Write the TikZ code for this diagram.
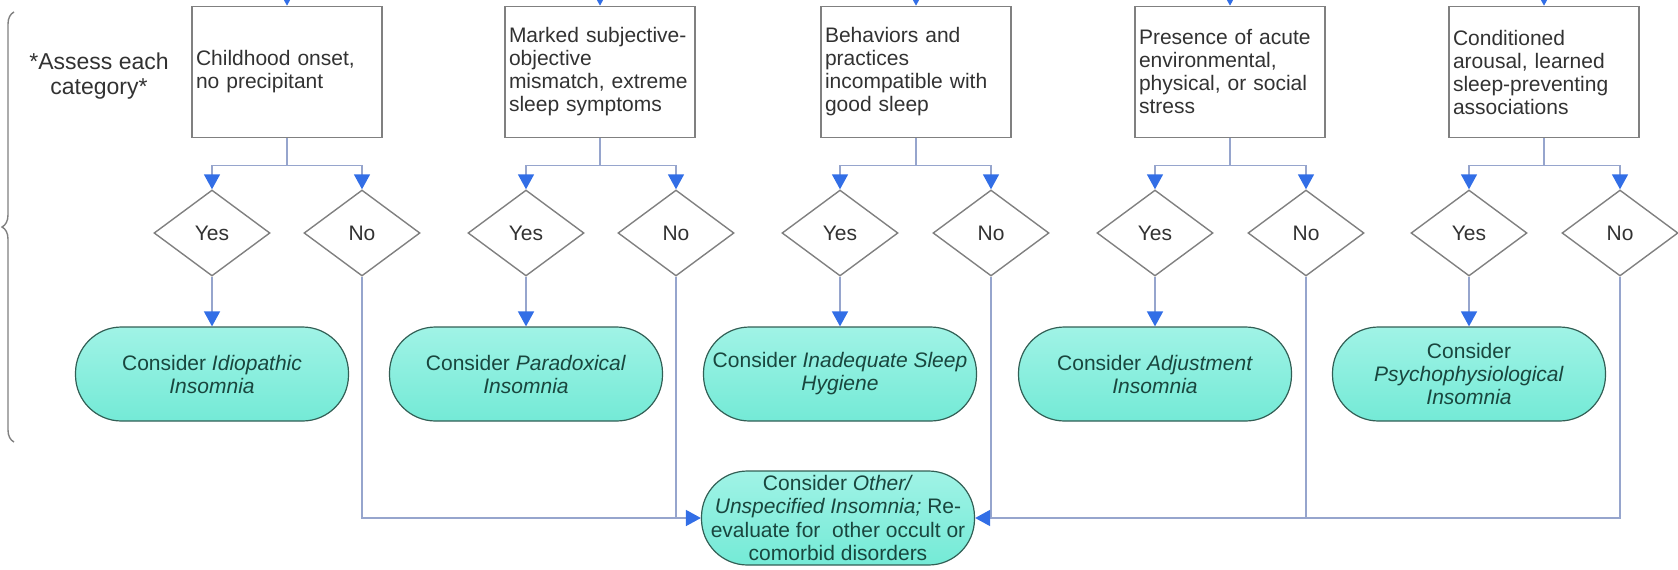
\documentclass[tikz,border=0pt]{standalone}
\usepackage{fontspec}
\setmainfont{Liberation Sans}
\usepackage{tikz}
\usetikzlibrary{shapes.geometric,arrows.meta,decorations.pathreplacing}

\definecolor{linegray}{RGB}{128,128,128}
\definecolor{connblue}{RGB}{150,165,205}
\definecolor{tipblue}{RGB}{50,110,230}
\definecolor{termfill}{RGB}{116,234,214}
\definecolor{termtop}{RGB}{160,243,230}
\definecolor{termline}{RGB}{50,95,85}
\definecolor{termtext}{RGB}{25,70,62}
\definecolor{boxtext}{RGB}{50,50,50}

\begin{document}
\begin{tikzpicture}[x=1pt, y=-1pt,
    crit/.style={draw=linegray, line width=1.6pt, text=boxtext, align=left, text width=182pt,
      inner xsep=4pt, inner ysep=0pt, minimum height=131pt, font=\fontsize{21pt}{23pt}\selectfont},
    choice/.style={diamond, draw=linegray, line width=1.4pt, minimum width=116pt, minimum height=86pt,
      inner sep=0pt, text=boxtext, font=\fontsize{21pt}{23pt}\selectfont},
    verdict/.style={draw=termline, line width=1.2pt, rounded corners=46pt, top color=termtop,
      bottom color=termfill, minimum width=273pt, minimum height=94pt, inner sep=0pt, align=center,
      text=termtext, font=\fontsize{21pt}{23pt}\selectfont},
    conn/.style={draw=connblue, line width=1.6pt},
    tip/.style={conn, -{Triangle[width=16pt,length=15pt,color=tipblue]}}]
      \clip (0,0) rectangle (1678,570);

      \draw[linegray, line width=1.4pt, decorate, decoration={brace, amplitude=12pt}] (14,442) -- (14,12);
      \node[font=\fontsize{23pt}{25pt}\selectfont, text=boxtext, align=center] (assess) at (99,76) {*Assess each\\category*};

      \node[crit] (box1) at (287,72) {Childhood onset,\\no precipitant};
      \node[crit] (box2) at (600,72) {Marked subjective-\\objective\\mismatch, extreme\\sleep symptoms};
      \node[crit] (box3) at (916,72) {Behaviors and\\practices\\incompatible with\\good sleep};
      \node[crit] (box4) at (1230,72) {Presence of acute\\environmental,\\physical, or social\\stress};
      \node[crit] (box5) at (1544,72) {Conditioned\\arousal, learned\\sleep-preventing\\associations};

      \coordinate (in1) at (287,-30);
      \coordinate (in2) at (600,-30);
      \coordinate (in3) at (916,-30);
      \coordinate (in4) at (1230,-30);
      \coordinate (in5) at (1544,-30);

      \node[choice] (yes1) at (212,233) {Yes};
      \node[choice] (no1) at (362,233) {No};
      \node[choice] (yes2) at (526,233) {Yes};
      \node[choice] (no2) at (676,233) {No};
      \node[choice] (yes3) at (840,233) {Yes};
      \node[choice] (no3) at (991,233) {No};
      \node[choice] (yes4) at (1155,233) {Yes};
      \node[choice] (no4) at (1306,233) {No};
      \node[choice] (yes5) at (1469,233) {Yes};
      \node[choice] (no5) at (1620,233) {No};

      \node[verdict] (cons1) at (212,374) {Consider \textit{Idiopathic}\\\textit{Insomnia}};
      \node[verdict] (cons2) at (526,374) {Consider \textit{Paradoxical}\\\textit{Insomnia}};
      \node[verdict] (cons3) at (840,374) {Consider \textit{Inadequate Sleep}\\\textit{Hygiene}};
      \node[verdict] (cons4) at (1155,374) {Consider \textit{Adjustment}\\\textit{Insomnia}};
      \node[verdict] (cons5) at (1469,374) {Consider\\\textit{Psychophysiological}\\\textit{Insomnia}};
      \node[verdict, font=\fontsize{21pt}{23.5pt}\selectfont] (other) at (838,518)
        {Consider \textit{Other/}\\\textit{Unspecified Insomnia;} Re-\\evaluate for\ \ other occult or\\comorbid disorders};

      \draw[tip] (in1) -- (box1.north);
      \draw[tip] (in2) -- (box2.north);
      \draw[tip] (in3) -- (box3.north);
      \draw[tip] (in4) -- (box4.north);
      \draw[tip] (in5) -- (box5.north);

      \draw[tip] (box1.south) -- ++(0,27) -| (yes1.north);
      \draw[tip] (box1.south) -- ++(0,27) -| (no1.north);
      \draw[tip] (box2.south) -- ++(0,27) -| (yes2.north);
      \draw[tip] (box2.south) -- ++(0,27) -| (no2.north);
      \draw[tip] (box3.south) -- ++(0,27) -| (yes3.north);
      \draw[tip] (box3.south) -- ++(0,27) -| (no3.north);
      \draw[tip] (box4.south) -- ++(0,27) -| (yes4.north);
      \draw[tip] (box4.south) -- ++(0,27) -| (no4.north);
      \draw[tip] (box5.south) -- ++(0,27) -| (yes5.north);
      \draw[tip] (box5.south) -- ++(0,27) -| (no5.north);

      \draw[tip] (yes1.south) -- (cons1.north);
      \draw[tip] (yes2.south) -- (cons2.north);
      \draw[tip] (yes3.south) -- (cons3.north);
      \draw[tip] (yes4.south) -- (cons4.north);
      \draw[tip] (yes5.south) -- (cons5.north);

      \draw[tip] (no1.south) |- (other.west);
      \draw[conn] (no2.south) -- (no2.south |- other.west);
      \draw[conn] (no3.south) -- (no3.south |- other.east);
      \draw[conn] (no4.south) -- (no4.south |- other.east);
      \draw[tip] (no5.south) |- (other.east);
\end{tikzpicture}
\end{document}
